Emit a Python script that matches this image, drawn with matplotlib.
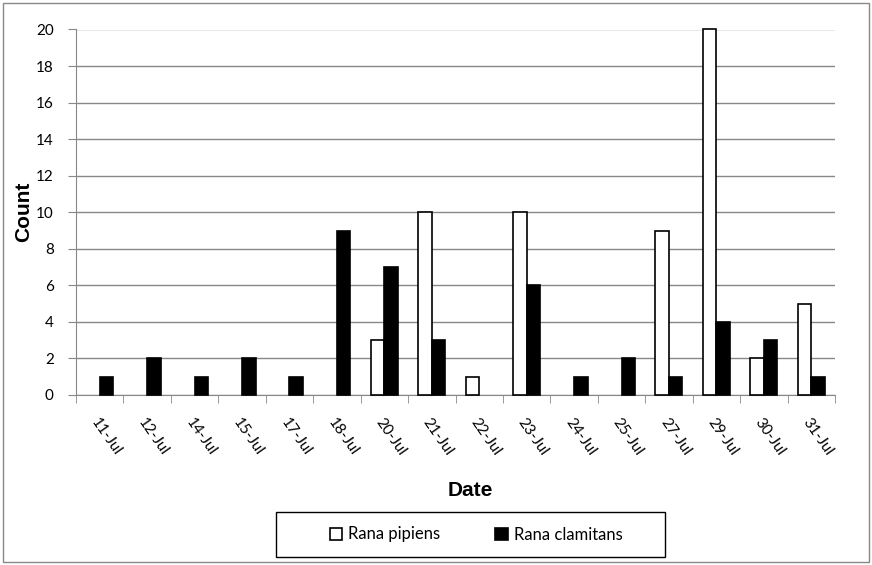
import numpy as np
import matplotlib.pyplot as plt
from matplotlib.patches import Rectangle, Patch

dates = ['11-Jul', '12-Jul', '14-Jul', '15-Jul', '17-Jul', '18-Jul', '20-Jul', '21-Jul',
         '22-Jul', '23-Jul', '24-Jul', '25-Jul', '27-Jul', '29-Jul', '30-Jul', '31-Jul']
pipiens = [0, 0, 0, 0, 0, 0, 3, 10, 1, 10, 0, 0, 9, 20, 2, 5]
clamitans = [1, 2, 1, 2, 1, 9, 7, 3, 0, 6, 1, 2, 1, 4, 3, 1]

fig = plt.figure(figsize=(8.72, 5.65), dpi=100)
ax = fig.add_axes([76 / 872, 1 - 395 / 565, (835 - 76) / 872, (395 - 29.5) / 565])

x = np.arange(len(dates))
w = 0.285
# zero-height bars get no outline, like the original
lw_p = [1.2 if v > 0 else 0 for v in pipiens]
lw_c = [1.2 if v > 0 else 0 for v in clamitans]
bp = ax.bar(x - w / 2, pipiens, w, color='white', edgecolor='black', linewidth=lw_p, zorder=3)
bc = ax.bar(x + w / 2, clamitans, w, color='black', edgecolor='black', linewidth=lw_c, zorder=3)
for b in list(bp) + list(bc):
    b.set_clip_on(False)

ax.set_xlim(-0.5, len(dates) - 0.5)
ax.set_ylim(0, 20)
ax.set_yticks(range(0, 21, 2))
ax.yaxis.grid(True, color='#888888', linewidth=1, zorder=0)
ax.set_axisbelow(True)

ax.set_xticks(x)
ax.set_xticklabels(dates, rotation=-55, ha='left', va='top', rotation_mode='anchor',
                   family='Lato', fontsize=11)
ax.set_xticks(np.arange(-0.5, len(dates), 1), minor=True)
ax.tick_params(axis='x', which='major', length=0, pad=15)
ax.tick_params(axis='x', which='minor', length=6, color='#888888')
ax.tick_params(axis='y', length=6, color='#888888', labelsize=11, pad=10)
for lab in ax.get_yticklabels():
    lab.set_family('Lato')

for s in ['top', 'right']:
    ax.spines[s].set_visible(False)
for s in ['left', 'bottom']:
    ax.spines[s].set_color('#888888')

ax.set_ylabel('Count', fontsize=15, fontweight='bold', family='Liberation Sans', labelpad=2)
fig.text(470 / 872, 1 - 490 / 565, 'Date', fontsize=15, fontweight='bold',
         family='Liberation Sans', ha='center', va='center')

# legend box drawn separately so its size matches the original
fig.patches.append(Rectangle((276 / 872, 1 - 557 / 565), 389 / 872, 45 / 565,
                             transform=fig.transFigure, fill=False,
                             edgecolor='black', linewidth=1))
handles = [Patch(facecolor='white', edgecolor='black', linewidth=1.2, label='Rana pipiens'),
           Patch(facecolor='black', edgecolor='black', linewidth=1.2, label='Rana clamitans')]
fig.legend(handles=handles, loc='center', bbox_to_anchor=(476 / 872, 1 - 534.5 / 565), ncol=2,
           frameon=False, handlelength=0.75, handleheight=0.75, handletextpad=0.35,
           columnspacing=3.3, prop={'family': 'Lato', 'size': 12})

fig.patches.append(Rectangle((3 / 872, 3 / 565), 866 / 872, 559 / 565,
                             transform=fig.transFigure, fill=False,
                             edgecolor='#888888', linewidth=1))

fig.savefig('out.png', dpi=100)
